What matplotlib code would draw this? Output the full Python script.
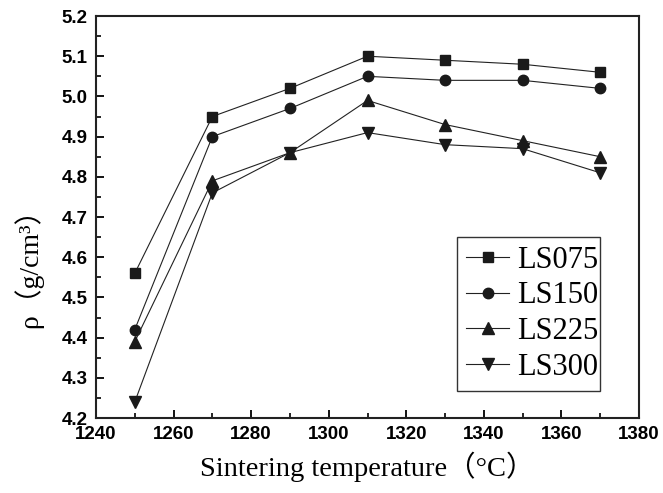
import matplotlib
matplotlib.use("Agg")
import matplotlib.pyplot as plt
from matplotlib.ticker import MultipleLocator

temps = [1250, 1270, 1290, 1310, 1330, 1350, 1370]
ls075 = [4.56, 4.95, 5.02, 5.10, 5.09, 5.08, 5.06]
ls150 = [4.42, 4.90, 4.97, 5.05, 5.04, 5.04, 5.02]
ls225 = [4.39, 4.79, 4.86, 4.99, 4.93, 4.89, 4.85]
ls300 = [4.24, 4.76, 4.86, 4.91, 4.88, 4.87, 4.81]

series = [ls075, ls150, ls225, ls300]
labels = ["LS075", "LS150", "LS225", "LS300"]
markers = ["s", "o", "^", "v"]
msizes = [6.5, 7.5, 8, 8]

serif = ["Liberation Serif", "Noto Sans CJK SC", "DejaVu Serif"]

fig = plt.figure(figsize=(6.63, 4.93), dpi=100)
ax = fig.add_axes([0.1448, 0.1521, 0.819, 0.8154])

for ys, lab, m, ms in zip(series, labels, markers, msizes):
    ax.plot(temps, ys, color="#222222", lw=0.8, marker=m, ms=ms,
            mfc="#1a1a1a", mec="#1a1a1a", label=lab)

ax.set_xlim(1240, 1380)
ax.set_ylim(4.2, 5.2)
ax.xaxis.set_major_locator(MultipleLocator(20))
ax.xaxis.set_minor_locator(MultipleLocator(10))
ax.yaxis.set_major_locator(MultipleLocator(0.1))
ax.yaxis.set_minor_locator(MultipleLocator(0.05))

ax.tick_params(which="major", direction="in", length=6, width=1.3, pad=6,
               top=False, right=False)
ax.tick_params(which="minor", direction="in", length=3.5, width=1.2,
               top=False, right=False)
for lab in ax.get_xticklabels() + ax.get_yticklabels():
    lab.set_family("Liberation Sans")
    lab.set_fontweight("bold")
    lab.set_fontsize(13.5)
for side in ["left", "bottom", "top", "right"]:
    ax.spines[side].set_linewidth(1.5)
    ax.spines[side].set_color("#222222")

ax.set_xlabel("Sintering temperature（°C）", family=serif, fontsize=20.5, labelpad=6)
ax.set_ylabel("ρ（g/cm³）", family=serif, fontsize=20)
ax.yaxis.set_label_coords(-0.097, 0.39)

leg = ax.legend(loc="lower left", bbox_to_anchor=(0.665, 0.067, 0.263, 0.383),
                mode="expand", prop={"family": "Liberation Serif", "size": 22},
                fancybox=False, edgecolor="#333333", framealpha=1,
                handlelength=1.4, handletextpad=0.25, labelspacing=0.22,
                borderaxespad=0, borderpad=0.3)
leg.get_frame().set_linewidth(1.0)

fig.savefig("out.png", dpi=100)
